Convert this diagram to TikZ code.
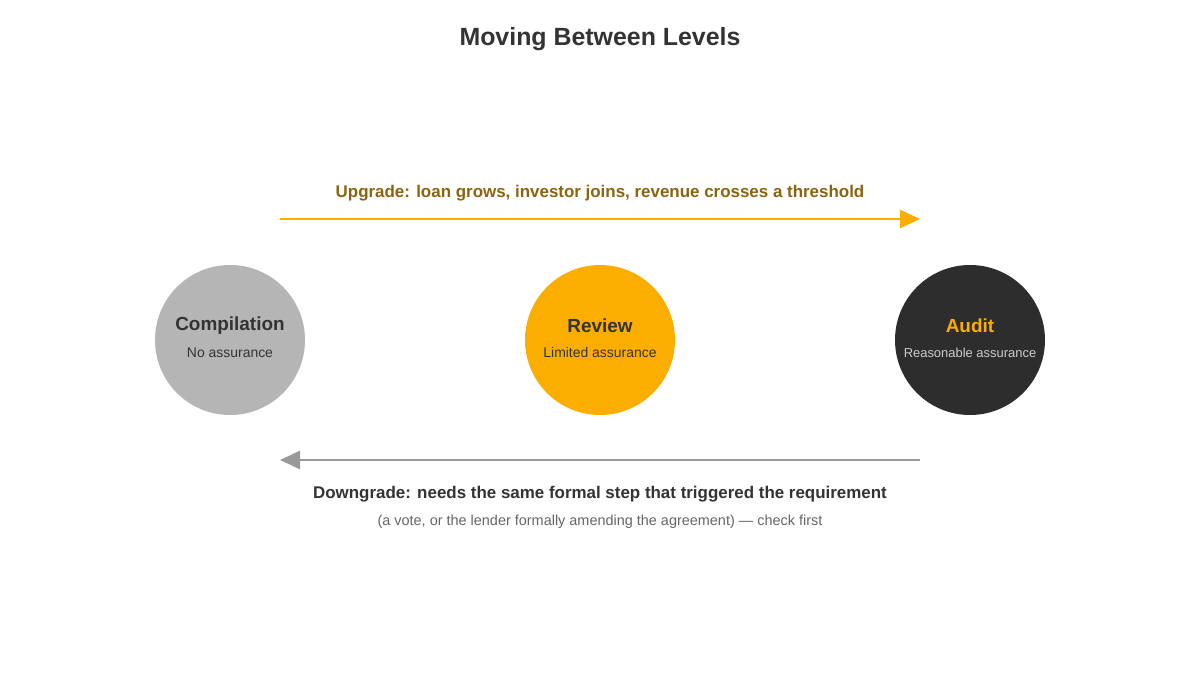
\documentclass[tikz,border=0pt]{standalone}
\usepackage{fontspec}
\setmainfont{Liberation Sans}
\usetikzlibrary{arrows.meta}
\definecolor{cgray}{HTML}{B5B5B5}
\definecolor{corange}{HTML}{FBAE00}
\definecolor{cdark}{HTML}{2D2D2D}
\definecolor{cbrown}{HTML}{8B6410}
\definecolor{ctext}{HTML}{333333}
\begin{document}
\begin{tikzpicture}[x=1bp,y=-1bp,
  lvl/.style={circle,minimum size=150bp,inner sep=0pt},
  nm/.style={font=\fontsize{19}{22}\selectfont\bfseries},
  sub/.style={font=\fontsize{14}{16}\selectfont},
  lab/.style={font=\fontsize{17}{20}\selectfont\bfseries}]
\useasboundingbox[fill=white] (0,0) rectangle (1200,675);
\node[font=\fontsize{25}{30}\selectfont\bfseries,text=ctext] (title) at (600,39) {Moving Between Levels};
\node[lvl,fill=cgray] (c) at (230,340) {};
\node[lvl,fill=corange] (r) at (600,340) {};
\node[lvl,fill=cdark] (a) at (970,340) {};
\node[nm,text=ctext] (cn) at (230,326) {Compilation};
\node[sub,text=ctext] (cs) at (230,353) {No assurance};
\node[nm,text=ctext] (rn) at (600,326) {Review};
\node[sub,text=ctext] (rs) at (600,353) {Limited assurance};
\node[nm,text=corange] (an) at (970,326) {Audit};
\node[sub,text=black!20,font=\fontsize{13}{16}\selectfont] (as) at (970,353) {Reasonable assurance};
\coordinate (u1) at (280,219); \coordinate (u2) at (920,219);
\coordinate (d1) at (920,460); \coordinate (d2) at (280,460);
\draw[corange,line width=2.5bp,-{Triangle[length=20bp,width=18bp]}] (u1) -- (u2);
\draw[black!40,line width=2.5bp,-{Triangle[length=20bp,width=18bp]}] (d1) -- (d2);
\node[lab,text=cbrown] (ul) at (600,193) {Upgrade: loan grows, investor joins, revenue crosses a threshold};
\node[lab,text=ctext] (dl) at (600,494) {Downgrade: needs the same formal step that triggered the requirement};
\node[sub,text=black!60,font=\fontsize{14.5}{17}\selectfont] (dn) at (600,522) {(a vote, or the lender formally amending the agreement) — check first};
\end{tikzpicture}
\end{document}
